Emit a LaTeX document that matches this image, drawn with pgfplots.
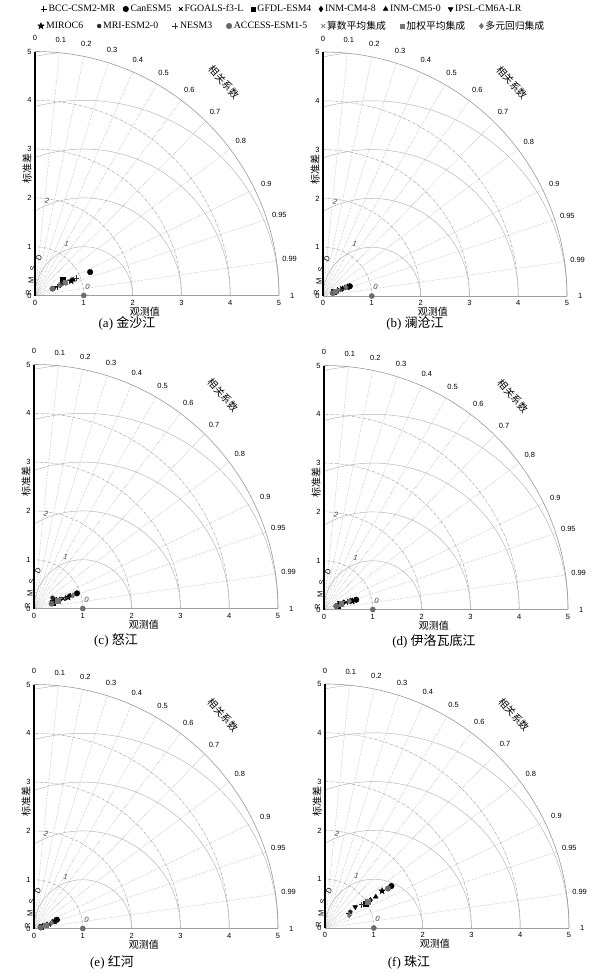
\documentclass[border=0pt]{standalone}
\usepackage{pgfplots}
\pgfplotsset{compat=1.18}
\usepackage{fontspec}
\setmainfont{Liberation Serif}
\newfontfamily\cjk{Noto Sans CJK SC}
\newfontfamily\sansf{Liberation Sans}
\def\u{48.8}
\newcommand{\tkf}{\sansf\fontsize{7.5}{8}\selectfont}
\newcommand{\legfont}{\fontsize{9.8}{11}\selectfont}
\newcommand{\labfont}{\cjk\fontsize{10}{11}\selectfont}

\pgfdeclareplotmark{fstar}{%
  \pgfpathmoveto{\pgfpointpolar{90}{1.3\pgfplotmarksize}}%
  \pgfpathlineto{\pgfpointpolar{126}{0.55\pgfplotmarksize}}%
  \pgfpathlineto{\pgfpointpolar{162}{1.3\pgfplotmarksize}}%
  \pgfpathlineto{\pgfpointpolar{198}{0.55\pgfplotmarksize}}%
  \pgfpathlineto{\pgfpointpolar{234}{1.3\pgfplotmarksize}}%
  \pgfpathlineto{\pgfpointpolar{270}{0.55\pgfplotmarksize}}%
  \pgfpathlineto{\pgfpointpolar{306}{1.3\pgfplotmarksize}}%
  \pgfpathlineto{\pgfpointpolar{342}{0.55\pgfplotmarksize}}%
  \pgfpathlineto{\pgfpointpolar{18}{1.3\pgfplotmarksize}}%
  \pgfpathlineto{\pgfpointpolar{54}{0.55\pgfplotmarksize}}%
  \pgfpathclose\pgfusepathqfillstroke}

\pgfplotsset{
  taylor/.style={anchor=south west, x=\u pt, y=\u pt, xmin=0, xmax=5, ymin=0, ymax=5,
    axis lines=left, axis line style={-}, x axis line style={gray!75, line width=0.6pt},
    y axis line style={black, line width=1.3pt},
    xtick={0,1,2,3,4,5}, ytick={0,1,2,3,4,5},
    xticklabels={0,1,2,3,4,5}, yticklabels={0,1,2,3,4,5}, major tick length=0pt,
    tick label style={font=\tkf}, xticklabel style={yshift=-1pt}, clip=false},
  s1/.style={only marks, mark=+, black, mark size=3pt, line width=0.8pt},
  s2/.style={only marks, mark=*, black, mark size=2.8pt},
  s3/.style={only marks, mark=x, black, mark size=2.6pt, line width=0.8pt},
  s4/.style={only marks, mark=square*, black, mark size=2.3pt},
  s5/.style={only marks, mark=diamond*, black, mark size=2.8pt},
  s6/.style={only marks, mark=triangle*, black, mark size=2.8pt},
  s7/.style={only marks, mark=triangle*, mark options={rotate=180}, black, mark size=2.8pt},
  s8/.style={only marks, mark=fstar, black, mark size=2.6pt},
  s9/.style={only marks, mark=*, black!85, mark size=2pt},
  s10/.style={only marks, mark=+, black!80, mark size=3pt, line width=0.8pt},
  s11/.style={only marks, mark=*, gray!80!black, mark size=2.8pt},
  s12/.style={only marks, mark=x, gray, mark size=2.6pt, line width=0.8pt},
  s13/.style={only marks, mark=square*, gray!90!black, mark size=2.3pt},
  s14/.style={only marks, mark=diamond*, gray!90!black, mark size=2.8pt},
  obs/.style={only marks, mark=*, gray!85!black, mark size=2.6pt},
  legimg/.style={legend image code/.code={\draw[mark repeat=2,mark phase=2,##1] plot coordinates {(0cm,0cm)(0.13cm,0cm)(0.26cm,0cm)};}},
}

\newcommand{\taylorgrid}[2]{%
\begin{scope}[shift={(#1pt,-#2pt)}]
  \foreach \r in {1,2,3,4}{\draw[gray!75, densely dashdotted, line width=0.45pt] ({\r*\u pt},0) arc[start angle=0, end angle=90, radius={\r*\u pt}];}
  \foreach \R/\e in {1/180,2/120,3/109.47,4/104.48}{\draw[gray!60, line width=0.45pt] ({(1+\R)*\u pt},0) arc[start angle=0, end angle=\e, radius={\R*\u pt}];}
  \draw[gray!60, line width=0.45pt] ({\u pt},0) ++(95.74:{5*\u pt}) arc[start angle=95.74, end angle=101.54, radius={5*\u pt}];
  \foreach \a in {84.26,78.46,72.54,66.42,60,53.13,45.57,36.87,25.84,18.19,8.11}{\draw[gray!75, densely dotted, line width=0.45pt] (0,0) -- (\a:{5*\u pt});}
  \draw[gray!80, line width=0.6pt] ({5*\u pt},0) arc[start angle=0, end angle=90, radius={5*\u pt}];
  \foreach \a/\l in {90/0,84.26/0.1,78.46/0.2,72.54/0.3,66.42/0.4,60/0.5,53.13/0.6,45.57/0.7,36.87/0.8,25.84/0.9,18.19/0.95,8.11/0.99,0/1}{\node[font=\tkf, inner sep=0pt] at (\a:{5.27*\u pt}) {\l};}
  \node[font=\labfont, rotate=-48] at (48.5:{5.84*\u pt}) {相关系数};
  \node[font=\labfont, rotate=90] at (-8pt,{2.6*\u pt}) {标准差};
  \node[font=\labfont] at ({2.25*\u pt},-16pt) {观测值};
  \node[font=\tkf, text=gray!50!black, rotate=-20] at ({1.08*\u pt},{0.18*\u pt}) {0};
  \node[font=\tkf, text=gray!50!black, rotate=-20] at ({0.65*\u pt},{1.07*\u pt}) {1};
  \node[font=\tkf, text=gray!50!black, rotate=-20] at ({0.25*\u pt},{1.94*\u pt}) {2};
  \node[font=\tkf, rotate=90, inner sep=0pt] at ({-0.13*\u pt},{0.06*\u pt}) {R};
  \node[font=\tkf, rotate=90, inner sep=0pt] at ({-0.08*\u pt},{0.3*\u pt}) {M};
  \node[font=\tkf, rotate=80, inner sep=0pt] at ({-0.04*\u pt},{0.55*\u pt}) {S};
  \node[font=\tkf, rotate=60, inner sep=0pt] at ({0.08*\u pt},{0.77*\u pt}) {D};
\end{scope}}

\begin{document}
\begin{tikzpicture}
\path[use as bounding box] (0,0) rectangle (592pt,-978pt);

% legends
\begin{axis}[hide axis, xmin=0, xmax=1, ymin=0, ymax=1, scale only axis, width=1pt, height=1pt,
  at={(282pt,-9pt)}, anchor=center, legend columns=7,
  legend style={at={(0.5,0.5)}, anchor=center, draw=none, fill=none, font=\legfont, inner sep=0pt,
  /tikz/every even column/.append style={column sep=5.5pt}}]
\addlegendimage{s1,legimg}\addlegendentry{BCC-CSM2-MR}
\addlegendimage{s2,legimg}\addlegendentry{CanESM5}
\addlegendimage{s3,legimg}\addlegendentry{FGOALS-f3-L}
\addlegendimage{s4,legimg}\addlegendentry{GFDL-ESM4}
\addlegendimage{s5,legimg}\addlegendentry{INM-CM4-8}
\addlegendimage{s6,legimg}\addlegendentry{INM-CM5-0}
\addlegendimage{s7,legimg}\addlegendentry{IPSL-CM6A-LR}
\end{axis}
\begin{axis}[hide axis, xmin=0, xmax=1, ymin=0, ymax=1, scale only axis, width=1pt, height=1pt,
  at={(292pt,-26pt)}, anchor=center, legend columns=7,
  legend style={at={(0.5,0.5)}, anchor=center, draw=none, fill=none, font=\legfont, inner sep=0pt,
  /tikz/every even column/.append style={column sep=12pt}}]
\addlegendimage{s8,legimg}\addlegendentry{MIROC6}
\addlegendimage{s9,legimg}\addlegendentry{MRI-ESM2-0}
\addlegendimage{s10,legimg}\addlegendentry{NESM3}
\addlegendimage{s11,legimg}\addlegendentry{ACCESS-ESM1-5}
\addlegendimage{s12,legimg}\addlegendentry{\cjk 算数平均集成}
\addlegendimage{s13,legimg}\addlegendentry{\cjk 加权平均集成}
\addlegendimage{s14,legimg}\addlegendentry{\cjk 多元回归集成}
\end{axis}

% (a)
\taylorgrid{35}{295.5}
\begin{axis}[taylor, at={(35pt,-295.5pt)}]
\addplot[obs] coordinates {(1,0)};
\addplot[s1] coordinates {(0.45,0.18)};
\addplot[s2] coordinates {(1.13,0.48)};
\addplot[s3] coordinates {(0.62,0.25)};
\addplot[s4] coordinates {(0.57,0.33)};
\addplot[s5] coordinates {(0.52,0.22)};
\addplot[s6] coordinates {(0.78,0.32)};
\addplot[s7] coordinates {(0.40,0.16)};
\addplot[s8] coordinates {(0.74,0.30)};
\addplot[s9] coordinates {(0.55,0.24)};
\addplot[s10] coordinates {(0.84,0.36)};
\addplot[s11] coordinates {(0.36,0.14)};
\addplot[s12] coordinates {(0.60,0.24)};
\addplot[s13] coordinates {(0.62,0.27)};
\addplot[s14] coordinates {(0.50,0.21)};
\end{axis}
\node[font=\fontsize{13}{15}\selectfont] at (127pt,-323pt) {(a) {\cjk 金沙江}};

% (b)
\taylorgrid{323}{296}
\begin{axis}[taylor, at={(323pt,-296pt)}]
\addplot[obs] coordinates {(1,0)};
\addplot[s1] coordinates {(0.30,0.12)};
\addplot[s2] coordinates {(0.55,0.20)};
\addplot[s3] coordinates {(0.34,0.13)};
\addplot[s4] coordinates {(0.22,0.09)};
\addplot[s5] coordinates {(0.40,0.15)};
\addplot[s6] coordinates {(0.45,0.17)};
\addplot[s7] coordinates {(0.26,0.10)};
\addplot[s8] coordinates {(0.50,0.18)};
\addplot[s9] coordinates {(0.28,0.08)};
\addplot[s10] coordinates {(0.36,0.14)};
\addplot[s11] coordinates {(0.20,0.06)};
\addplot[s12] coordinates {(0.32,0.12)};
\addplot[s13] coordinates {(0.25,0.10)};
\addplot[s14] coordinates {(0.47,0.18)};
\end{axis}
\node[font=\fontsize{13}{15}\selectfont] at (415pt,-323pt) {(b) {\cjk 澜沧江}};

% (c)
\taylorgrid{34}{608.5}
\begin{axis}[taylor, at={(34pt,-608.5pt)}]
\addplot[obs] coordinates {(1,0)};
\addplot[s1] coordinates {(0.45,0.17)};
\addplot[s2] coordinates {(0.88,0.31)};
\addplot[s3] coordinates {(0.60,0.20)};
\addplot[s4] coordinates {(0.38,0.12)};
\addplot[s5] coordinates {(0.53,0.18)};
\addplot[s6] coordinates {(0.74,0.26)};
\addplot[s7] coordinates {(0.42,0.19)};
\addplot[s8] coordinates {(0.70,0.23)};
\addplot[s9] coordinates {(0.38,0.22)};
\addplot[s10] coordinates {(0.65,0.22)};
\addplot[s11] coordinates {(0.36,0.10)};
\addplot[s12] coordinates {(0.50,0.17)};
\addplot[s13] coordinates {(0.48,0.16)};
\addplot[s14] coordinates {(0.80,0.27)};
\end{axis}
\node[font=\fontsize{13}{15}\selectfont] at (116pt,-640pt) {(c) {\cjk 怒江}};

% (d)
\taylorgrid{324}{609.5}
\begin{axis}[taylor, at={(324pt,-609.5pt)}]
\addplot[obs] coordinates {(1,0)};
\addplot[s1] coordinates {(0.30,0.12)};
\addplot[s2] coordinates {(0.66,0.20)};
\addplot[s3] coordinates {(0.45,0.15)};
\addplot[s4] coordinates {(0.28,0.08)};
\addplot[s5] coordinates {(0.40,0.14)};
\addplot[s6] coordinates {(0.55,0.18)};
\addplot[s7] coordinates {(0.32,0.14)};
\addplot[s8] coordinates {(0.58,0.17)};
\addplot[s9] coordinates {(0.26,0.06)};
\addplot[s10] coordinates {(0.48,0.16)};
\addplot[s11] coordinates {(0.25,0.07)};
\addplot[s12] coordinates {(0.38,0.13)};
\addplot[s13] coordinates {(0.35,0.12)};
\addplot[s14] coordinates {(0.52,0.17)};
\end{axis}
\node[font=\fontsize{13}{15}\selectfont] at (434pt,-641pt) {(d) {\cjk 伊洛瓦底江}};

% (e)
\taylorgrid{34}{928.5}
\begin{axis}[taylor, at={(34pt,-928.5pt)}]
\addplot[obs] coordinates {(1,0)};
\addplot[s1] coordinates {(0.20,0.06)};
\addplot[s2] coordinates {(0.47,0.18)};
\addplot[s3] coordinates {(0.30,0.09)};
\addplot[s4] coordinates {(0.15,0.04)};
\addplot[s5] coordinates {(0.27,0.08)};
\addplot[s6] coordinates {(0.38,0.13)};
\addplot[s7] coordinates {(0.22,0.07)};
\addplot[s8] coordinates {(0.42,0.15)};
\addplot[s9] coordinates {(0.12,0.03)};
\addplot[s10] coordinates {(0.33,0.10)};
\addplot[s11] coordinates {(0.14,0.02)};
\addplot[s12] coordinates {(0.25,0.08)};
\addplot[s13] coordinates {(0.24,0.07)};
\addplot[s14] coordinates {(0.36,0.12)};
\end{axis}
\node[font=\fontsize{13}{15}\selectfont] at (112pt,-962pt) {(e) {\cjk 红河}};

% (f)
\taylorgrid{325}{928}
\begin{axis}[taylor, at={(325pt,-928pt)}]
\addplot[obs] coordinates {(1,0)};
\addplot[s1] coordinates {(0.50,0.30)};
\addplot[s2] coordinates {(1.36,0.86)};
\addplot[s3] coordinates {(0.86,0.55)};
\addplot[s4] coordinates {(0.83,0.50)};
\addplot[s5] coordinates {(0.93,0.57)};
\addplot[s6] coordinates {(1.04,0.64)};
\addplot[s7] coordinates {(0.62,0.43)};
\addplot[s8] coordinates {(1.17,0.76)};
\addplot[s9] coordinates {(0.52,0.33)};
\addplot[s10] coordinates {(0.75,0.48)};
\addplot[s11] coordinates {(1.29,0.81)};
\addplot[s12] coordinates {(0.90,0.56)};
\addplot[s13] coordinates {(0.88,0.54)};
\addplot[s14] coordinates {(0.50,0.26)};
\end{axis}
\node[font=\fontsize{13}{15}\selectfont] at (409pt,-962pt) {(f) {\cjk 珠江}};
\end{tikzpicture}
\end{document}
